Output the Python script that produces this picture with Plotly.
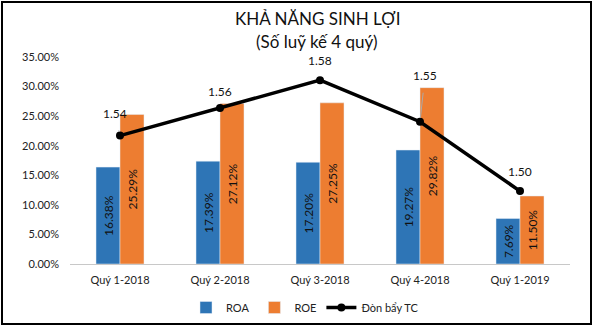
import plotly.graph_objects as go

categories = ["Quý 1-2018", "Quý 2-2018", "Quý 3-2018", "Quý 4-2018", "Quý 1-2019"]
roa = [16.38, 17.39, 17.20, 19.27, 7.69]
roe = [25.29, 27.12, 27.25, 29.82, 11.50]
leverage = [1.54, 1.56, 1.58, 1.55, 1.50]
title_lines = ["KHẢ NĂNG SINH LỢI", "(Số luỹ kế 4 quý)"]

FONT = "Lato, 'Noto Sans', sans-serif"
BLUE = "#2E75B6"
ORANGE = "#ED7D31"

fig = go.Figure()
fig.add_trace(go.Bar(
    x=categories, y=[v / 100 for v in roa], name="ROA", marker_color=BLUE,
    text=[f"{v:.2f}%" for v in roa], textposition="inside", insidetextanchor="middle",
    textangle=-90, textfont=dict(color="#111111", size=12, family=FONT),
))
fig.add_trace(go.Bar(
    x=categories, y=[v / 100 for v in roe], name="ROE", marker_color=ORANGE,
    text=[f"{v:.2f}%" for v in roe], textposition="inside", insidetextanchor="middle",
    textangle=-90, textfont=dict(color="#111111", size=12, family=FONT),
))
fig.add_trace(go.Scatter(
    x=categories, y=leverage, name="Đòn bẩy TC", yaxis="y2", mode="lines+markers",
    line=dict(color="black", width=3.5), marker=dict(color="black", size=8),
))

offsets = [(-5, -22), (0, -16), (0, -20), (5, -46), (0, -20)]
for c, v, (ax, ay) in zip(categories, leverage, offsets):
    fig.add_annotation(
        x=c, y=v, yref="y2", text=f"{v:.2f}", showarrow=True, ax=ax, ay=ay,
        arrowhead=0, arrowwidth=1, arrowcolor="#aaaaaa", standoff=4, startstandoff=8,
        font=dict(family=FONT, size=12, color="#111111"),
    )

for txt, py in zip(title_lines, [18, 42]):
    fig.add_annotation(
        xref="paper", yref="paper", x=0.5 - 3 / 500, y=(264 - py) / 207, text=txt,
        showarrow=False, xanchor="center", yanchor="middle",
        font=dict(family=FONT, size=17, color="#111111"),
    )

# outer frame of the chart
fig.add_shape(type="rect", xref="paper", yref="paper", layer="below",
              x0=(2 - 70) / 500, x1=(591 - 70) / 500,
              y0=(264 - 324) / 207, y1=(264 - 2) / 207,
              line=dict(color="black", width=2), fillcolor="rgba(0,0,0,0)")

fig.update_layout(
    width=593, height=326,
    margin=dict(l=70, r=23, t=57, b=62, autoexpand=False),
    paper_bgcolor="white", plot_bgcolor="white",
    font=dict(family=FONT, size=11, color="#222222"),
    barmode="group", bargap=0.52, bargroupgap=0,
    xaxis=dict(showgrid=False, showline=True, linecolor="#c8c8c8", linewidth=1,
               ticks="", tickfont=dict(size=11), zeroline=False, ticklabelstandoff=6),
    yaxis=dict(range=[0, 0.35], dtick=0.05, tickformat=".2%", showgrid=False,
               showline=False, zeroline=False, ticklabelstandoff=10, tickfont=dict(size=11)),
    yaxis2=dict(range=[1.4474, 1.5967], overlaying="y", side="right", visible=False,
                showgrid=False),
    legend=dict(orientation="h", x=0.47, xanchor="center", yref="container",
                y=1 - 293 / 326, yanchor="top",
                font=dict(size=11), itemwidth=30, traceorder="normal"),
    showlegend=True,
)

fig.write_html("out.html")
